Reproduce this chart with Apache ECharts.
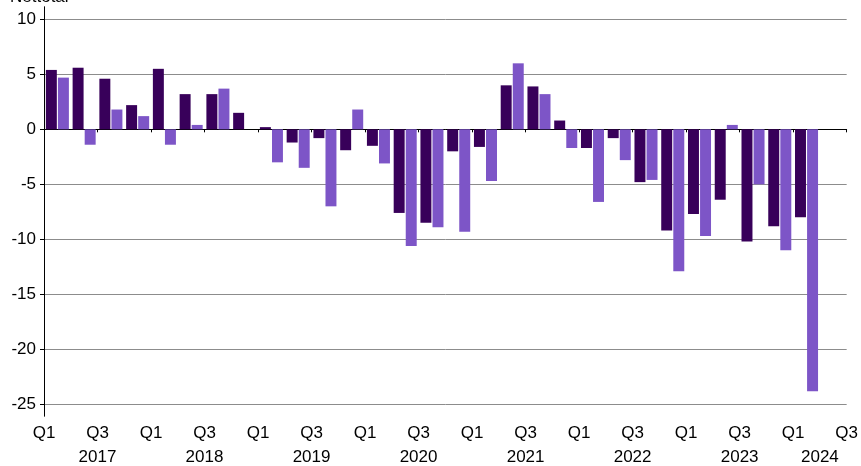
<!DOCTYPE html>
<html>
<head>
<meta charset="utf-8">
<script src="https://cdn.jsdelivr.net/npm/echarts@6/dist/echarts.min.js"></script>
<style>
  html, body { margin: 0; padding: 0; background: #fff; }
  #chart { width: 861px; height: 466px; }
</style>
</head>
<body>
<div id="chart"></div>
<script>
// quarters 2017Q1 .. 2024Q2 (last one has no data)
const quarters = [
  "2017Q1", "2017Q2", "2017Q3", "2017Q4",
  "2018Q1", "2018Q2", "2018Q3", "2018Q4",
  "2019Q1", "2019Q2", "2019Q3", "2019Q4",
  "2020Q1", "2020Q2", "2020Q3", "2020Q4",
  "2021Q1", "2021Q2", "2021Q3", "2021Q4",
  "2022Q1", "2022Q2", "2022Q3", "2022Q4",
  "2023Q1", "2023Q2", "2023Q3", "2023Q4",
  "2024Q1", "2024Q2"
];
const darkValues = [
  5.4, 5.6, 4.6, 2.2, 5.5, 3.2, 3.2, 1.5,
  0.2, -1.2, -0.8, -1.9, -1.5, -7.6, -8.5, -2.0,
  -1.6, 4.0, 3.9, 0.8, -1.7, -0.8, -4.8, -9.2,
  -7.7, -6.4, -10.2, -8.8, -8.0, null
];
const lightValues = [
  4.7, -1.4, 1.8, 1.2, -1.4, 0.4, 3.7, 0,
  -3.0, -3.5, -7.0, 1.8, -3.1, -10.6, -8.9, -9.3,
  -4.7, 6.0, 3.2, -1.7, -6.6, -2.8, -4.6, -12.9,
  -9.7, 0.4, -5.0, -11.0, -23.8, null
];
// tick labels on the quarter boundaries (every second quarter)
const quarterTickLabels = [
  "Q1", "Q3", "Q1", "Q3", "Q1", "Q3", "Q1", "Q3",
  "Q1", "Q3", "Q1", "Q3", "Q1", "Q3", "Q1", "Q3"
];
const yearLabels = ["2017", "2018", "2019", "2020", "2021", "2022", "2023", "2024"];
const yearLabelPos = [2, 6, 10, 14, 18, 22, 26, 29];
const yTicks = [-25, -20, -15, -10, -5, 0, 5, 10];

const font = "Liberation Sans, Arial, sans-serif";
const yMin = -26.06, yMax = 11.12;

const chart = echarts.init(document.getElementById("chart"));

const option = {
  animation: false,
  // title sits mostly above the top edge, as in the source
  graphic: [
    {
      type: "text",
      x: 10,
      y: 6,
      style: {
        text: "Nettotal",
        fontFamily: font,
        fontSize: 17,
        fill: "#000",
        verticalAlign: "bottom"
      }
    }
  ],
  grid: { left: 44, right: 13, top: 7, bottom: 50, containLabel: false },
  xAxis: [
    {
      // band axis for the bars, not drawn
      type: "category",
      data: quarters,
      show: false
    },
    {
      // quarter ticks and labels
      type: "value",
      position: "bottom",
      min: 0,
      max: 30,
      interval: 2,
      axisLine: { show: true, lineStyle: { color: "#000", width: 1 } },
      axisTick: { show: true, length: 3, lineStyle: { color: "#000" } },
      splitLine: { show: false },
      axisLabel: {
        margin: 9,
        color: "#000",
        fontFamily: font,
        fontSize: 17,
        formatter: (v) => quarterTickLabels[Math.round(v / 2)] || ""
      }
    },
    {
      // year labels
      type: "value",
      position: "bottom",
      min: 0,
      max: 30,
      axisLine: { show: false },
      axisTick: { show: false },
      splitLine: { show: false },
      axisLabel: {
        margin: 33,
        color: "#000",
        fontFamily: font,
        fontSize: 17,
        customValues: yearLabelPos,
        formatter: (v) => yearLabels[yearLabelPos.indexOf(v)] || ""
      }
    }
  ],
  yAxis: [
    {
      type: "value",
      min: yMin,
      max: yMax,
      axisLine: { show: true, lineStyle: { color: "#000", width: 1 } },
      axisTick: { show: true, length: 4, customValues: yTicks, lineStyle: { color: "#000" } },
      axisLabel: {
        margin: 8,
        color: "#000",
        fontFamily: font,
        fontSize: 17,
        customValues: yTicks
      },
      splitLine: { show: true, lineStyle: { color: "#8c8c8c", width: 1 } }
    },
    {
      type: "value",
      position: "right",
      min: yMin,
      max: yMax,
      axisLine: { show: true, lineStyle: { color: "#000", width: 1 } },
      axisTick: { show: false },
      axisLabel: { show: false },
      splitLine: { show: false }
    }
  ],
  series: [
    {
      name: "Serie 1",
      type: "bar",
      xAxisIndex: 0,
      yAxisIndex: 0,
      data: darkValues,
      barWidth: "41%",
      barGap: "10%",
      itemStyle: { color: "#38005a" }
    },
    {
      name: "Serie 2",
      type: "bar",
      xAxisIndex: 0,
      yAxisIndex: 0,
      data: lightValues,
      barWidth: "41%",
      barGap: "10%",
      itemStyle: { color: "#7d55c7" }
    }
  ]
};

chart.setOption(option);
</script>
</body>
</html>
